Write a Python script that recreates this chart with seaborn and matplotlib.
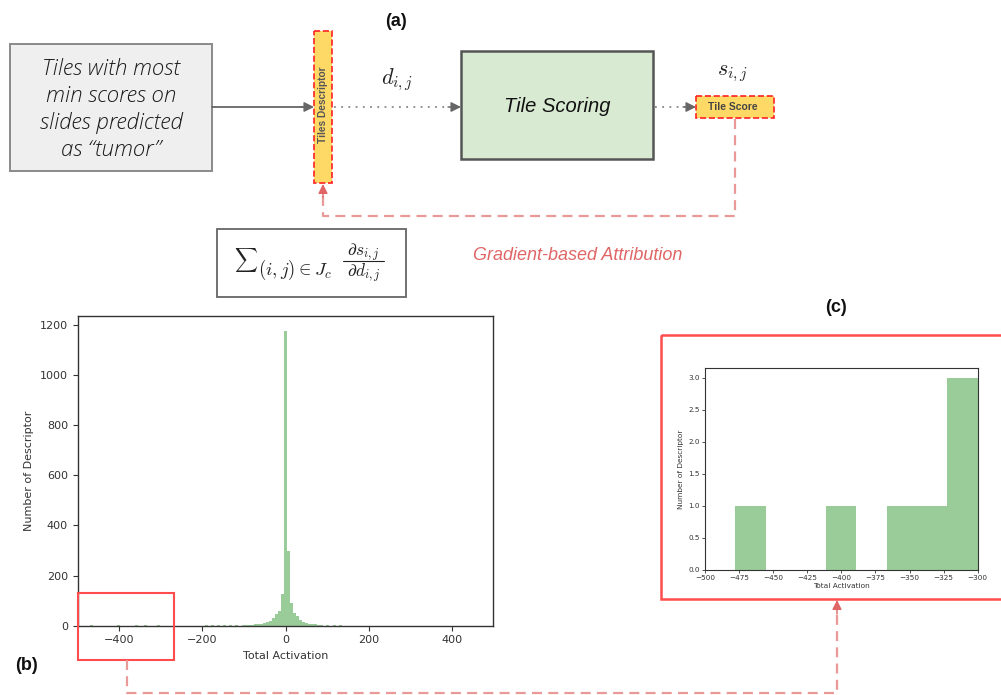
import numpy as np
import pandas as pd
import matplotlib
matplotlib.use("Agg")
import matplotlib.pyplot as plt
from matplotlib.patches import Rectangle
import seaborn as sns

# Total activation per descriptor (histogram bin centres and counts)
activation_values = [
    -467, -400, -355, -333, -310,
    -190, -175, -161, -146, -131, -117,
    -102, -95, -88, -80, -73, -66, -58, -51, -44, -37, -29, -22, -15, -7,
    0,
    7, 15, 22, 29, 37, 44, 51, 58, 66, 73, 80, 88,
    102, 117, 131,
]
descriptor_counts = [
    1, 1, 1, 1, 3,
    1, 2, 1, 1, 2, 1,
    2, 3, 3, 4, 5, 6, 7, 9, 13, 19, 31, 46, 58, 127,
    1177,
    298, 90, 52, 38, 24, 15, 10, 8, 6, 5, 4, 3,
    2, 1, 1,
]

b_xticks = [-400, -200, 0, 200, 400]
b_yticks = [0, 200, 400, 600, 800, 1000, 1200]
c_xticks = [-500, -475, -450, -425, -400, -375, -350, -325, -300]
c_yticks = [0.0, 0.5, 1.0, 1.5, 2.0, 2.5, 3.0]
zoom_range = (-500, -300)

sns.set_style("ticks")
plt.rcParams["font.family"] = ["DejaVu Sans"]
plt.rcParams["mathtext.fontset"] = "cm"

W, H = 1001, 695
fig = plt.figure(figsize=(W / 100, H / 100), dpi=100)


def frac(x0, y0, x1, y1):
    return [x0 / W, 1 - y1 / H, (x1 - x0) / W, (y1 - y0) / H]


bar_color = "green"
df = pd.DataFrame({"activation": activation_values, "count": descriptor_counts})

# ---- (b) full histogram ----
ax_b = fig.add_axes(frac(77.7, 316, 493.3, 625.7))
sns.histplot(data=df, x="activation", weights="count",
             binwidth=1000 / 137, binrange=(-500, 500), color=bar_color, alpha=0.4,
             edgecolor="none", linewidth=0, ax=ax_b)
ax_b.set_xlim(-500, 500)
ax_b.set_ylim(0, 1236)
ax_b.set_xticks(b_xticks)
ax_b.set_yticks(b_yticks)
ax_b.tick_params(labelsize=8, length=3.5, width=0.8, colors="#333333")
ax_b.set_xlabel("Total Activation", fontsize=8, color="#333333")
ax_b.set_ylabel("Number of Descriptor", fontsize=8, color="#333333")
for s in ax_b.spines.values():
    s.set_linewidth(1.0)
    s.set_color("#333333")

# ---- (c) zoom on the most negative activations ----
df_zoom = df[(df["activation"] >= zoom_range[0]) & (df["activation"] <= zoom_range[1])]
ax_c = fig.add_axes(frac(705, 368.3, 977.7, 570))
sns.histplot(data=df_zoom, x="activation", weights="count",
             binwidth=(zoom_range[1] - zoom_range[0]) / 9, binrange=zoom_range,
             color=bar_color, alpha=0.4, edgecolor="none", linewidth=0, ax=ax_c)
ax_c.set_xlim(*zoom_range)
ax_c.set_ylim(0, 3.15)
ax_c.set_xticks(c_xticks)
ax_c.set_yticks(c_yticks)
ax_c.set_yticklabels([f"{v:.1f}" for v in c_yticks])
ax_c.tick_params(labelsize=5.2, length=2.2, width=0.6, pad=1.5, colors="#333333")
ax_c.set_xlabel("Total Activation", fontsize=5.3, color="#333333", labelpad=1.5)
ax_c.set_ylabel("Number of Descriptor", fontsize=5.3, color="#333333", labelpad=3)
for s in ax_c.spines.values():
    s.set_linewidth(0.8)
    s.set_color("#333333")

# ---- diagram overlay in pixel coordinates ----
ov = fig.add_axes([0, 0, 1, 1], zorder=10)
ov.set_xlim(0, W)
ov.set_ylim(H, 0)
ov.axis("off")
ov.patch.set_visible(False)

sans = ["Liberation Sans", "DejaVu Sans"]
pink = "#ea9999"
red_head = "#e06666"
dash = (0, (4.5, 2.8))


def head(ax, tip, tail, color, scale=15):
    ax.annotate("", xy=tip, xytext=tail,
                arrowprops=dict(arrowstyle="-|>", color=color, lw=1.0,
                                mutation_scale=scale, shrinkA=0, shrinkB=0))


# input box
ov.add_patch(Rectangle((10, 44), 202, 127, fc="#efefef", ec="#8a8a8a", lw=1.4))
ov.text(111, 109.5, "Tiles with most\nmin scores on\nslides predicted\nas \u201ctumor\u201d",
        family=["Open Sans", "DejaVu Sans"], style="italic", weight="light",
        fontsize=16, color="#1a1a1a", ha="center", va="center", linespacing=1.28)

ov.plot([212, 303], [107, 107], color="#666666", lw=1.3)
head(ov, (314, 107), (301, 107), "#666666")

# descriptor column
ov.add_patch(Rectangle((314, 31), 18, 152, fc="#ffd966", ec="#ff2222", lw=1.2, ls="--"))
ov.text(323, 105, "Tiles Descriptor", rotation=90, family=sans, weight="bold",
        fontsize=7.3, color="#555555", ha="center", va="center")

ov.plot([334, 450], [107, 107], color="#888888", lw=1.3, ls=(0, (1, 3)))
head(ov, (461, 107), (448, 107), "#666666")
ov.text(397, 80, r"$d_{i,j}$", fontsize=16, ha="center", va="center", color="#222222")

# scoring box
ov.add_patch(Rectangle((461, 51), 192, 108, fc="#d9ead3", ec="#555555", lw=1.8))
ov.text(557, 107, "Tile Scoring", family=sans, style="italic", fontsize=14.5,
        color="#111111", ha="center", va="center")

ov.plot([655, 685], [107, 107], color="#888888", lw=1.3, ls=(0, (1, 3)))
head(ov, (696, 107), (683, 107), "#666666")

# score box
ov.add_patch(Rectangle((696, 96), 78, 22, fc="#ffd966", ec="#ff2222", lw=1.2, ls="--"))
ov.text(733, 107.5, "Tile Score", family=sans, weight="bold", fontsize=7.5,
        color="#444444", ha="center", va="center")
ov.text(733, 74, r"$s_{i,j}$", fontsize=16, ha="center", va="center", color="#222222")

# gradient feedback path
ov.plot([735, 735, 323, 323], [119, 216, 216, 196], color=pink, lw=1.6, ls=dash,
        solid_capstyle="butt")
head(ov, (323, 184), (323, 197), red_head, 14)

ov.text(396, 21, "(a)", family=sans, weight="bold", fontsize=13, ha="center",
        va="center", color="#111111")

# attribution formula: sum over the tile set of d s / d d
ov.add_patch(Rectangle((217, 229), 189, 68, fc="white", ec="#666666", lw=1.3))
ink = "#222222"
ov.text(246, 260, r"$\sum$", fontsize=11.5, ha="center", va="center", color=ink)
ov.text(258, 275, r"$(i,j)\in J_c$", fontsize=13.5, ha="left", va="baseline", color=ink)
ov.text(363.5, 256, r"$\partial s_{i,j}$", fontsize=12.5, ha="center", va="baseline",
        color=ink)
ov.plot([343, 384], [261, 261], color=ink, lw=0.8)
ov.text(363.5, 277.5, r"$\partial d_{i,j}$", fontsize=12.5, ha="center", va="baseline",
        color=ink)
ov.text(578, 255, "Gradient-based Attribution", family=sans, style="italic",
        fontsize=13, color=red_head, ha="center", va="center")

# zoom link between (b) and (c)
ov.add_patch(Rectangle((78.3, 592.5), 95.7, 67.5, fill=False, ec="#ff4d4d", lw=1.5))
ov.add_patch(Rectangle((661, 335), 360, 264, fill=False, ec="#ff4d4d", lw=1.8))
ov.plot([126.7, 126.7, 837, 837], [660, 693, 693, 613], color=pink, lw=1.6, ls=dash,
        solid_capstyle="butt")
head(ov, (837, 600), (837, 614), red_head, 14)

ov.text(26, 666, "(b)", family=sans, weight="bold", fontsize=13, ha="center",
        va="center", color="#111111")
ov.text(836, 307, "(c)", family=sans, weight="bold", fontsize=13, ha="center",
        va="center", color="#111111")

fig.savefig("out.png", dpi=100)
